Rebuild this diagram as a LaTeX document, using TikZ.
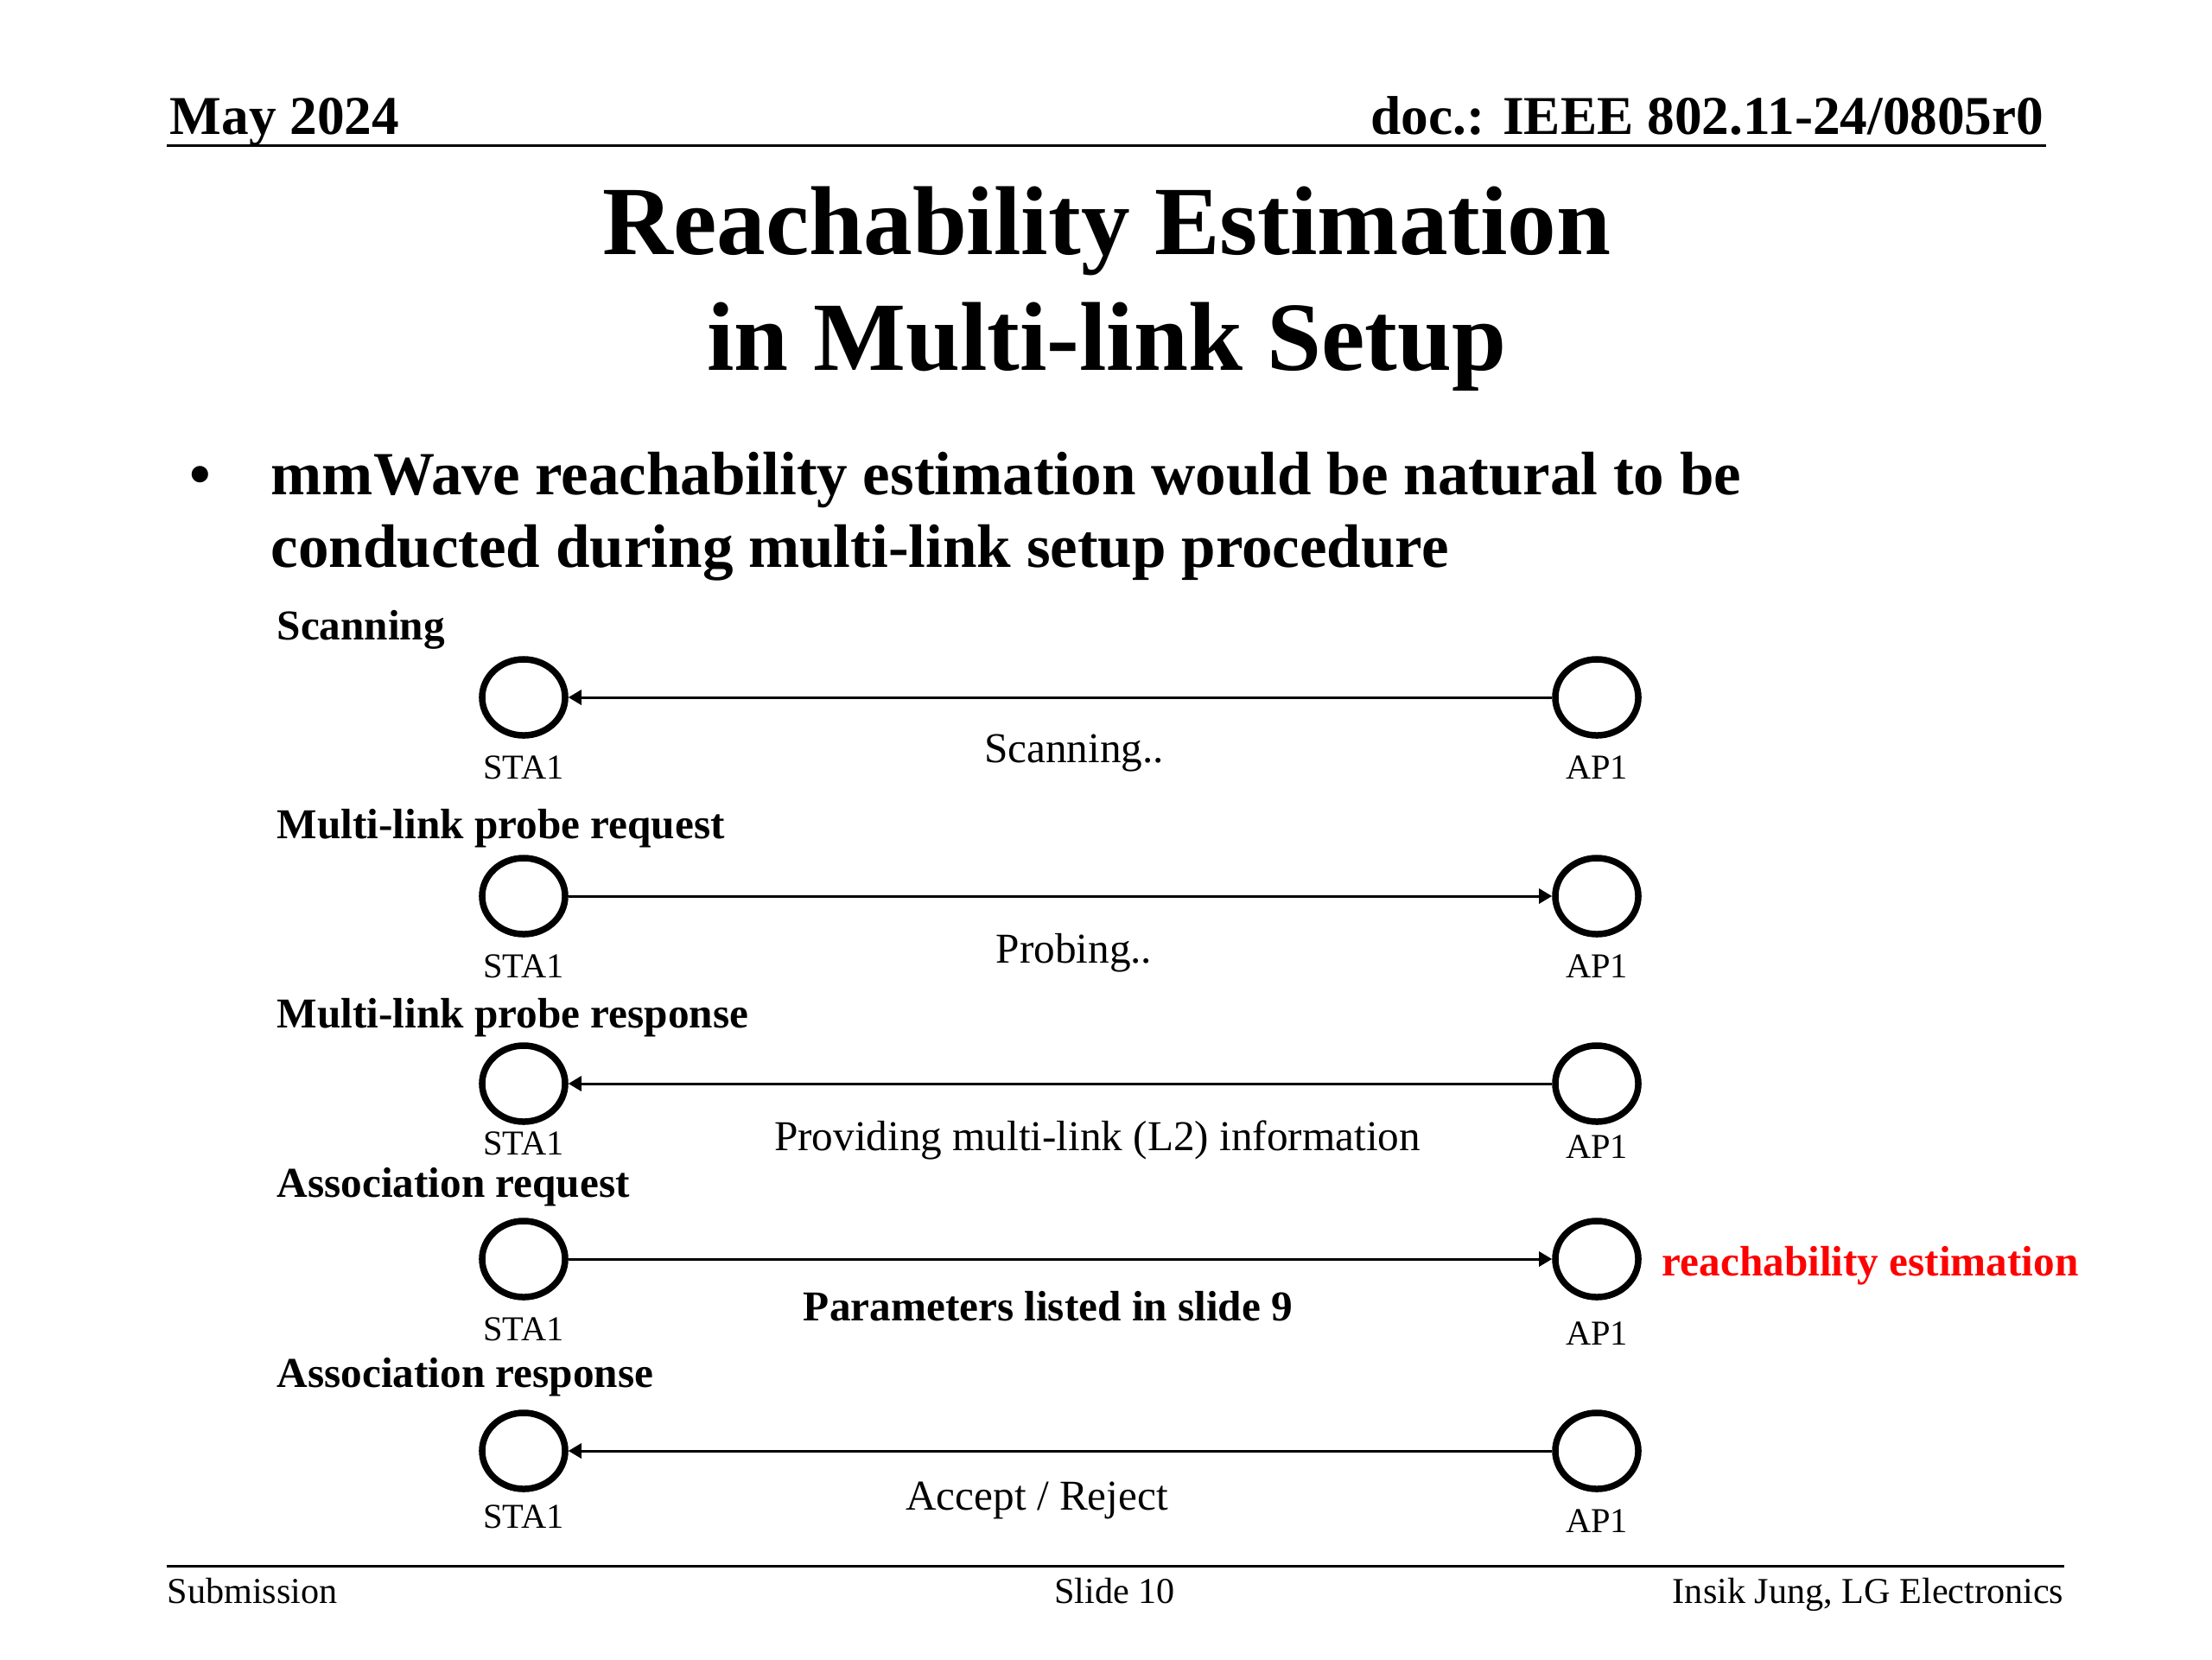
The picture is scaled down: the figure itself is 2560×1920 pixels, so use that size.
\documentclass[tikz,border=0pt]{standalone}
\usepackage{fontspec}
\setmainfont{Liberation Serif}
\usetikzlibrary{shapes.geometric,arrows.meta}
\tikzset{
  dev/.style={ellipse,draw,line width=0.075cm,minimum width=0.96cm,minimum height=0.88cm,inner sep=0pt},
  devlbl/.style={anchor=base,inner sep=0pt,font=\fontsize{11.5}{13}\selectfont},
  rowlbl/.style={anchor=base west,inner sep=0pt,font=\fontsize{14}{16}\selectfont\bfseries},
  msg/.style={anchor=base,inner sep=0pt,font=\fontsize{14}{16}\selectfont},
  flow/.style={line width=0.03cm,-{Triangle[length=0.15cm,width=0.17cm]}},
  foot/.style={inner sep=0pt,font=\fontsize{12}{14}\selectfont},
}
\begin{document}
\begin{tikzpicture}[x=0.01cm,y=-0.01cm]
\useasboundingbox (0,0) rectangle (2560,1920);
% header
\node[anchor=base west,inner sep=0pt,font=\fontsize{18}{20}\selectfont\bfseries] (date) at (196,155) {May 2024};
\node[anchor=base east,inner sep=0pt,font=\fontsize{18}{20}\selectfont\bfseries] (doc) at (2366,155) {doc.: IEEE 802.11-24/0805r0};
\coordinate (hl) at (193,168);
\coordinate (hr) at (2368,168);
\draw[line width=0.03cm] (hl) -- (hr);
% title
\node[anchor=base,inner sep=0pt,font=\fontsize{32.2}{36}\selectfont\bfseries] (t1) at (1281,294) {Reachability Estimation};
\node[anchor=base,inner sep=0pt,font=\fontsize{32.2}{36}\selectfont\bfseries] (t2) at (1281,428) {in Multi-link Setup};
% bullet
\node[anchor=base,inner sep=0pt,font=\fontsize{20}{24}\selectfont\bfseries] (bul) at (232,572) {•};
\node[anchor=base west,inner sep=0pt,font=\fontsize{20.2}{24}\selectfont\bfseries] (b1) at (313,572) {mmWave reachability estimation would be natural to be};
\node[anchor=base west,inner sep=0pt,font=\fontsize{20.2}{24}\selectfont\bfseries] (b2) at (313,656) {conducted during multi-link setup procedure};
% rows
\node[rowlbl] (r1) at (320,740) {Scanning};
\node[rowlbl] (r2) at (320,970) {Multi-link probe request};
\node[rowlbl] (r3) at (320,1189) {Multi-link probe response};
\node[rowlbl] (r4) at (320,1385) {Association request};
\node[rowlbl] (r5) at (320,1605) {Association response};
% devices
\node[dev] (s1) at (606,807) {};
\node[dev] (a1) at (1848,807) {};
\node[dev] (s2) at (606,1037) {};
\node[dev] (a2) at (1848,1037) {};
\node[dev] (s3) at (606,1254) {};
\node[dev] (a3) at (1848,1254) {};
\node[dev] (s4) at (606,1457) {};
\node[dev] (a4) at (1848,1457) {};
\node[dev] (s5) at (606,1679) {};
\node[dev] (a5) at (1848,1679) {};
% device labels
\node[devlbl] (ls1) at (606,901) {STA1};
\node[devlbl] (la1) at (1848,901) {AP1};
\node[devlbl] (ls2) at (606,1131) {STA1};
\node[devlbl] (la2) at (1848,1131) {AP1};
\node[devlbl] (ls3) at (606,1336) {STA1};
\node[devlbl] (la3) at (1848,1340) {AP1};
\node[devlbl] (ls4) at (606,1551) {STA1};
\node[devlbl] (la4) at (1848,1556) {AP1};
\node[devlbl] (ls5) at (606,1768) {STA1};
\node[devlbl] (la5) at (1848,1773) {AP1};
% arrows
\draw[flow] (a1) -- (s1);
\draw[flow] (s2) -- (a2);
\draw[flow] (a3) -- (s3);
\draw[flow] (s4) -- (a4);
\draw[flow] (a5) -- (s5);
% messages
\node[msg] (m1) at (1243,882) {Scanning..};
\node[msg] (m2) at (1243,1114) {Probing..};
\node[msg] (m3) at (1270,1331) {Providing multi-link (L2) information};
\node[msg,font=\fontsize{14}{16}\selectfont\bfseries] (m4) at (1213,1528) {Parameters listed in slide 9};
\node[msg] (m5) at (1200,1747) {Accept / Reject};
\node[anchor=base west,inner sep=0pt,font=\fontsize{14}{16}\selectfont\bfseries,text={rgb,255:red,255;green,0;blue,0}] (re) at (1923,1476) {reachability estimation};
% footer
\coordinate (fl) at (193,1812);
\coordinate (fr) at (2389,1812);
\draw[line width=0.03cm] (fl) -- (fr);
\node[foot,anchor=base west] (f1) at (193,1855) {Submission};
\node[foot,anchor=base] (f2) at (1290,1855) {Slide 10};
\node[foot,anchor=base east] (f3) at (2389,1855) {Insik Jung, LG Electronics};
\end{tikzpicture}
\end{document}
